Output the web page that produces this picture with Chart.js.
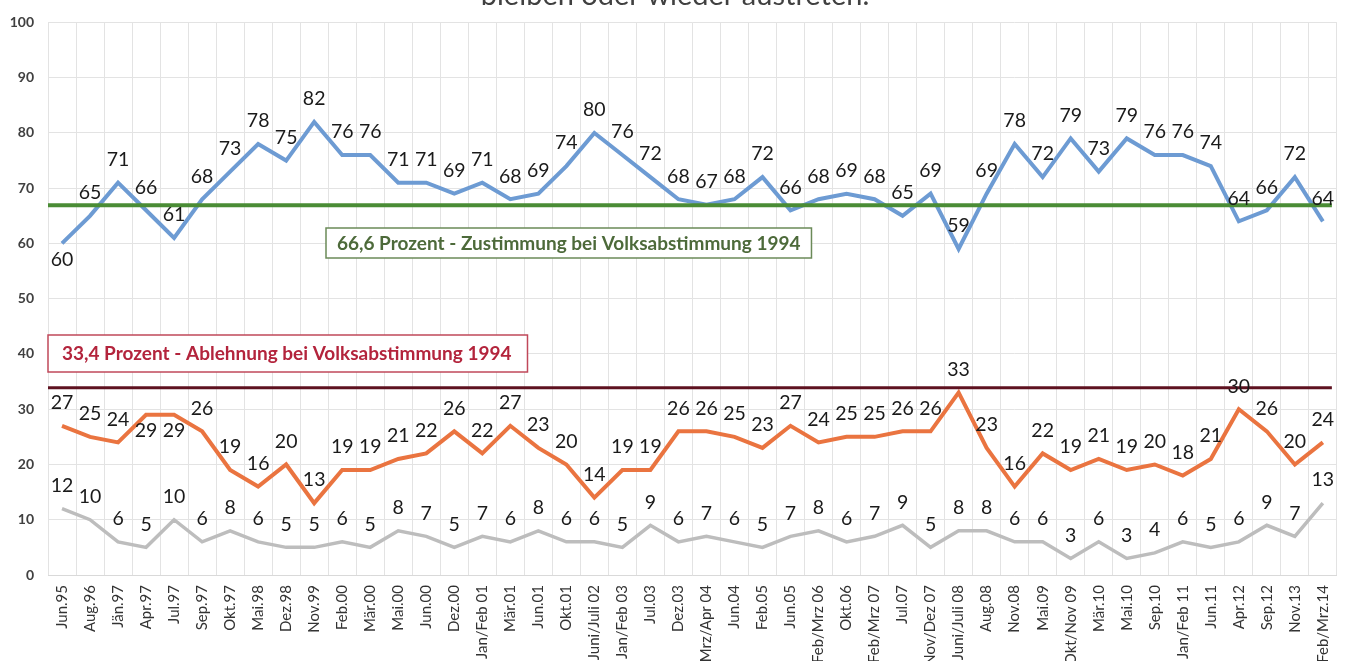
<!DOCTYPE html>
<html>
<head>
<meta charset="utf-8">
<script src="https://cdn.jsdelivr.net/npm/chart.js@4/dist/chart.umd.min.js"></script>
<style>
  html, body { margin: 0; padding: 0; background: #fff; }
  #wrap { position: relative; width: 1351px; height: 661px; }
</style>
</head>
<body>
<div id="wrap"><canvas id="chart"></canvas></div>
<script>
// --- Data ---
const titleText = 'bleiben oder wieder austreten.';

const categories = [
  'Jun.95', 'Aug.96', 'Jän.97', 'Apr.97', 'Jul.97', 'Sep.97', 'Okt.97', 'Mai.98', 'Dez.98', 'Nov.99',
  'Feb.00', 'Mär.00', 'Mai.00', 'Jun.00', 'Dez.00', 'Jan/Feb 01', 'Mär.01', 'Jun.01', 'Okt.01', 'Juni/Juli 02',
  'Jan/Feb 03', 'Jul.03', 'Dez.03', 'Mrz/Apr 04', 'Jun.04', 'Feb.05', 'Jun.05', 'Feb/Mrz 06', 'Okt.06', 'Feb/Mrz 07',
  'Jul.07', 'Nov/Dez 07', 'Juni/Juli 08', 'Aug.08', 'Nov.08', 'Mai.09', 'Okt/Nov 09', 'Mär.10', 'Mai.10', 'Sep.10',
  'Jan/Feb 11', 'Jun.11', 'Apr.12', 'Sep.12', 'Nov.13', 'Feb/Mrz.14'
];

const blueValues = [
  60, 65, 71, 66, 61, 68, 73, 78, 75, 82,
  76, 76, 71, 71, 69, 71, 68, 69, 74, 80,
  76, 72, 68, 67, 68, 72, 66, 68, 69, 68,
  65, 69, 59, 69, 78, 72, 79, 73, 79, 76,
  76, 74, 64, 66, 72, 64
];

const orangeValues = [
  27, 25, 24, 29, 29, 26, 19, 16, 20, 13,
  19, 19, 21, 22, 26, 22, 27, 23, 20, 14,
  19, 19, 26, 26, 25, 23, 27, 24, 25, 25,
  26, 26, 33, 23, 16, 22, 19, 21, 19, 20,
  18, 21, 30, 26, 20, 24
];

const grayValues = [
  12, 10, 6, 5, 10, 6, 8, 6, 5, 5,
  6, 5, 8, 7, 5, 7, 6, 8, 6, 6,
  5, 9, 6, 7, 6, 5, 7, 8, 6, 7,
  9, 5, 8, 8, 6, 6, 3, 6, 3, 4,
  6, 5, 6, 9, 7, 13
];

const yTicks = [0, 10, 20, 30, 40, 50, 60, 70, 80, 90, 100];

// reference lines (where they sit on the y scale) and their captions
const approveLineValue = 66.9;
const rejectLineValue = 33.9;
const approveText = '66,6 Prozent - Zustimmung bei Volksabstimmung 1994';
const rejectText = '33,4 Prozent - Ablehnung bei Volksabstimmung 1994';

// labels drawn under the point instead of above
const labelsBelow = { 0: [0], 1: [3, 4], 2: [] };

const FONT = 'Lato, "Open Sans", sans-serif';

// --- Plugins ---
const titlePlugin = {
  id: 'cutTitle',
  afterDraw(chart) {
    const c = chart.ctx;
    c.save();
    c.font = `29px ${FONT}`;
    c.fillStyle = '#404040';
    c.textAlign = 'center';
    c.textBaseline = 'alphabetic';
    c.fillText(titleText, 675, 5);
    c.restore();
  }
};

const refPlugin = {
  id: 'refLines',
  afterDatasetsDraw(chart) {
    const c = chart.ctx;
    const area = chart.chartArea;
    const y = chart.scales.y;

    c.save();
    // green approval line
    const gy = y.getPixelForValue(approveLineValue);
    c.strokeStyle = '#4a8c35';
    c.lineWidth = 4;
    c.beginPath(); c.moveTo(area.left, gy); c.lineTo(area.right - 5, gy); c.stroke();

    // dark red rejection line
    const ry = y.getPixelForValue(rejectLineValue);
    c.strokeStyle = '#5e1220';
    c.lineWidth = 3;
    c.beginPath(); c.moveTo(area.left, ry); c.lineTo(area.right - 5, ry); c.stroke();

    // caption boxes
    c.font = `bold 19px ${FONT}`;
    c.textBaseline = 'middle';
    c.textAlign = 'left';

    let w = c.measureText(approveText).width;
    c.fillStyle = '#fff';
    c.fillRect(326, 228, w + 22, 30);
    c.strokeStyle = '#6b8a58';
    c.lineWidth = 1.5;
    c.strokeRect(326, 228, w + 22, 30);
    c.fillStyle = '#4d6a3a';
    c.fillText(approveText, 337, 244);

    w = c.measureText(rejectText).width;
    c.fillStyle = '#fff';
    c.fillRect(area.left, 335, w + 30, 37);
    c.strokeStyle = '#c0485a';
    c.strokeRect(area.left, 335, w + 30, 37);
    c.fillStyle = '#b3243c';
    c.fillText(rejectText, area.left + 14, 354);
    c.restore();
  }
};

const labelPlugin = {
  id: 'valueLabels',
  afterDatasetsDraw(chart) {
    const c = chart.ctx;
    c.save();
    c.font = `19.5px ${FONT}`;
    c.fillStyle = '#1a1a1a';
    c.textAlign = 'center';
    c.textBaseline = 'middle';
    chart.data.datasets.forEach((ds, di) => {
      const meta = chart.getDatasetMeta(di);
      meta.data.forEach((pt, i) => {
        const below = labelsBelow[di].includes(i);
        c.fillText(String(ds.data[i]), pt.x, below ? pt.y + 16 : pt.y - 23);
      });
    });
    c.restore();
  }
};

// --- Chart ---
const ctx = document.getElementById('chart').getContext('2d');

new Chart(ctx, {
  type: 'line',
  data: {
    labels: categories,
    datasets: [
      { label: 'Bleiben', data: blueValues, borderColor: '#6d9bd3', borderWidth: 4 },
      { label: 'Austreten', data: orangeValues, borderColor: '#ea7440', borderWidth: 4 },
      { label: 'Weiß nicht', data: grayValues, borderColor: '#bdbdbd', borderWidth: 3.5 }
    ]
  },
  options: {
    responsive: true,
    maintainAspectRatio: false,
    animation: false,
    elements: { point: { radius: 0, hoverRadius: 0 }, line: { tension: 0, borderJoinStyle: 'miter' } },
    layout: { padding: { top: 17, right: 13, left: 0, bottom: 0 } },
    plugins: {
      legend: { display: false },
      tooltip: { enabled: false }
    },
    scales: {
      x: {
        type: 'category',
        offset: true,
        grid: { offset: true, color: '#e3e3e3', drawTicks: false },
        border: { color: '#d9d9d9' },
        ticks: {
          autoSkip: false,
          minRotation: 90,
          maxRotation: 90,
          padding: 10,
          color: '#333333',
          font: { family: FONT, size: 15 }
        },
        afterFit(scale) { scale.height = 86; }
      },
      y: {
        min: 0,
        max: 100,
        afterBuildTicks(scale) { scale.ticks = yTicks.map(v => ({ value: v })); },
        grid: { color: '#e3e3e3', drawTicks: false },
        border: { display: false },
        ticks: {
          padding: 14,
          color: '#404040',
          font: { family: FONT, size: 14, weight: 'bold' }
        },
        afterFit(scale) { scale.width = 48; }
      }
    }
  },
  plugins: [refPlugin, labelPlugin, titlePlugin]
});
</script>
</body>
</html>
